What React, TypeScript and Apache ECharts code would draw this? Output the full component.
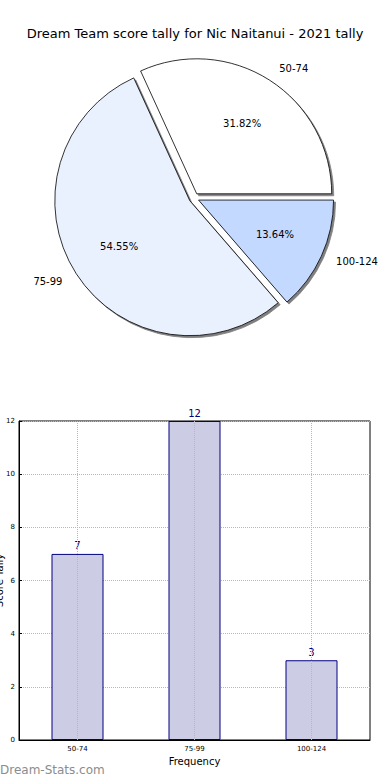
import React, { useEffect, useRef } from "react";
import * as echarts from "echarts";

const titleText = "Dream Team score tally for Nic Naitanui - 2021 tally";
const categories = ["50-74", "75-99", "100-124"];
const tallies = [7, 12, 3];
const pieColors = ["#ffffff", "#eaf1fe", "#c4d9ff"];
const yTicks = { min: 0, max: 12, interval: 2 };
const yName = "Score Tally";
const xName = "Frequency";
const watermark = "Dream-Stats.com";

const FONT = "DejaVu Sans";

export default function App() {
  const ref = useRef<HTMLDivElement>(null);
  useEffect(() => {
    if (!ref.current) return;
    const chart = echarts.init(ref.current, undefined, { renderer: "svg" });
    const R = 135;
    const total = tallies.reduce((a, b) => a + b, 0);
    const pieData = categories.map((c, i) => ({
      name: c,
      value: tallies[i],
      selected: true,
      itemStyle: { color: pieColors[i] },
    }));
    const pctData = categories.map((c, i) => ({
      name: c,
      value: tallies[i],
      selected: true,
    }));
    chart.setOption({
      animation: false,
      title: {
        text: titleText,
        left: "center",
        top: 22,
        textStyle: { fontFamily: FONT, fontSize: 13, fontWeight: "normal", color: "#000" },
      },
      grid: {
        left: 19,
        right: 20,
        top: 421,
        bottom: 40,
        show: true,
        borderColor: "#000",
        borderWidth: 1,
        containLabel: false,
        outerBoundsMode: "none",
      },
      xAxis: {
        type: "category",
        data: categories,
        name: xName,
        nameLocation: "middle",
        nameGap: 16,
        nameMoveOverlap: false,
        nameTextStyle: { fontFamily: FONT, fontSize: 10, color: "#000" },
        axisLine: { lineStyle: { color: "#000" } },
        axisTick: { show: false },
        axisLabel: { fontFamily: FONT, fontSize: 7, color: "#000", margin: 5 },
        splitLine: { show: false },
      },
      yAxis: {
        type: "value",
        min: yTicks.min,
        max: yTicks.max,
        interval: yTicks.interval,
        name: yName,
        nameLocation: "middle",
        nameGap: 15,
        nameMoveOverlap: false,
        nameRotate: 90,
        nameTextStyle: { fontFamily: FONT, fontSize: 10, color: "#000" },
        axisLine: { show: true, lineStyle: { color: "#000" } },
        axisTick: { show: true, inside: true, length: 3, lineStyle: { color: "#000" } },
        axisLabel: { fontFamily: FONT, fontSize: 7, color: "#000", margin: 4 },
        splitLine: { show: true, lineStyle: { color: "#b8b8b8", type: "dotted", width: 1 } },
      },
      series: [
        {
          type: "pie",
          center: [194, 198],
          radius: R,
          startAngle: 0,
          clockwise: false,
          selectedMode: "multiple",
          selectedOffset: 5,
          avoidLabelOverlap: false,
          data: pieData,
          itemStyle: {
            borderColor: "#000",
            borderWidth: 0.8,
            shadowColor: "rgba(0,0,0,0.5)",
            shadowBlur: 1,
            shadowOffsetX: 2,
            shadowOffsetY: 2,
          },
          select: { itemStyle: { borderColor: "#000", borderWidth: 0.8 } },
          emphasis: { disabled: true },
          label: {
            show: true,
            position: "outside",
            formatter: "{b}",
            fontFamily: FONT,
            fontSize: 10,
            color: "#000",
            distanceToLabelLine: 0,
          },
          labelLine: { show: false, length: 14, length2: 2 },
          silent: true,
          z: 2,
        },
        {
          type: "pie",
          center: [194, 198],
          radius: [R * 0.2, R],
          startAngle: 0,
          clockwise: false,
          selectedMode: "multiple",
          selectedOffset: 5,
          avoidLabelOverlap: false,
          data: pctData,
          itemStyle: { color: "rgba(0,0,0,0)", borderWidth: 0 },
          select: { itemStyle: { color: "rgba(0,0,0,0)", borderWidth: 0 } },
          emphasis: { disabled: true },
          label: {
            show: true,
            position: "inside",
            formatter: (p: any) => ((p.value / total) * 100).toFixed(2) + "%",
            fontFamily: FONT,
            fontSize: 10,
            color: "#000",
          },
          labelLine: { show: false },
          silent: true,
          z: 3,
        },
        {
          type: "bar",
          data: tallies,
          barWidth: 52,
          itemStyle: { color: "#ccccE5", borderColor: "#000080", borderWidth: 1 },
          label: {
            show: true,
            position: "top",
            distance: 3,
            fontFamily: FONT,
            fontSize: 10,
            color: "#000080",
          },
          markLine: {
            silent: true,
            symbol: "none",
            label: { show: false },
            lineStyle: { color: "#b8b8b8", type: "dotted", width: 1 },
            data: categories.map((c) => ({ xAxis: c })),
          },
          emphasis: { disabled: true },
        },
      ],
      graphic: [
        {
          type: "text",
          left: 0,
          top: 764,
          style: {
            text: watermark,
            fontFamily: FONT,
            fontSize: 12,
            fill: "#8c8c8c",
          },
        },
      ],
    });
    return () => chart.dispose();
  }, []);
  return (
    <div
      ref={ref}
      style={{ position: "fixed", left: 0, top: 0, width: 390, height: 780, background: "#fff" }}
    />
  );
}
